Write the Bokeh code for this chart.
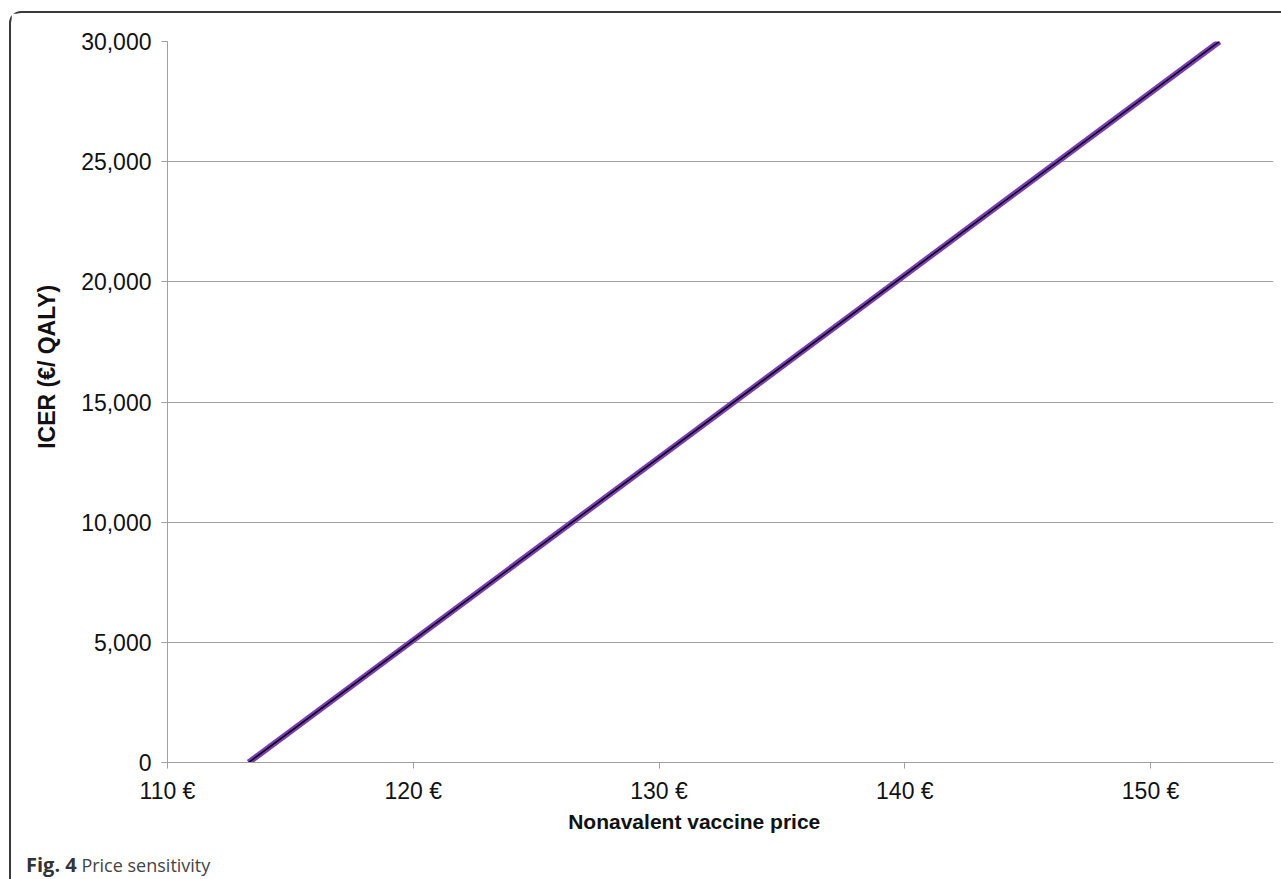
from bokeh.plotting import figure
from bokeh.models import FixedTicker, Range1d, Div
from bokeh.layouts import column
from bokeh.embed import file_html
from bokeh.resources import INLINE

# Data
price = [113.3, 152.8]
icer = [0, 30000]

x_ticks = [110, 120, 130, 140, 150]
x_tick_labels = ["110 €", "120 €", "130 €", "140 €", "150 €"]
y_ticks = [0, 5000, 10000, 15000, 20000, 25000, 30000]
y_tick_labels = ["0", "5,000", "10,000", "15,000", "20,000", "25,000", "30,000"]

x_title = "Nonavalent vaccine price"
y_title = "ICER (€/ QALY)"
caption_bold = "Fig. 4"
caption_text = "Price sensitivity"

FONT = "Liberation Sans"
GRID = "#a0a0a0"
NBSP = "\u00a0"

p = figure(width=1266, height=835, output_backend="svg", toolbar_location=None,
           x_range=Range1d(110, 155), y_range=Range1d(0, 30000),
           min_border_left=156, min_border_top=28, min_border_right=4, min_border_bottom=86)
p.outline_line_color = None
p.background_fill_color = "white"

p.xgrid.visible = False
p.ygrid.ticker = FixedTicker(ticks=y_ticks)
p.ygrid.grid_line_color = GRID
p.ygrid.grid_line_width = 1

for ax, ticks, labels in ((p.xaxis[0], x_ticks, x_tick_labels), (p.yaxis[0], y_ticks, y_tick_labels)):
    ax.ticker = FixedTicker(ticks=ticks)
    ax.major_label_overrides = {t: l for t, l in zip(ticks, labels)}
    ax.axis_line_color = GRID
    ax.axis_line_width = 1
    ax.major_tick_line_color = GRID
    ax.major_tick_out = 6
    ax.major_tick_in = 0
    ax.minor_tick_line_color = None
    ax.major_label_text_font = FONT
    ax.major_label_text_font_size = "23px"
    ax.major_label_text_color = "#111111"
    ax.axis_label_text_font = FONT
    ax.axis_label_text_font_style = "bold"
    ax.axis_label_text_color = "#111111"
p.xaxis.axis_label_text_font_size = "21px"
p.yaxis.axis_label_text_font_size = "23px"
p.xaxis.major_label_standoff = 9
p.yaxis.major_label_standoff = 10
# titles sit slightly off-centre in the original: padded with non-breaking spaces
p.xaxis.axis_label = x_title + NBSP * 9
p.yaxis.axis_label = NBSP * 11 + y_title
p.xaxis.axis_label_standoff = 3
p.yaxis.axis_label_standoff = 18

p.line(price, icer, line_color="#7b3bb8", line_width=6)
p.line(price, icer, line_color="#000000", line_width=1.5)

caption = Div(text=f"<b style='color:#333333;font-size:20px'>{caption_bold}</b> {caption_text}",
              width=1266, height=30,
              styles={"font-family": "Open Sans", "font-size": "18px", "color": "#444444",
                      "padding-left": "10px", "line-height": "24px"})

layout = column(p, caption, spacing=0)
layout.styles = {"margin-left": "9px", "margin-top": "11px",
                 "border-top": "2px solid #3a3a3a", "border-left": "2px solid #3a3a3a",
                 "border-top-left-radius": "12px"}

open("out.html", "w").write(file_html(layout, INLINE))
